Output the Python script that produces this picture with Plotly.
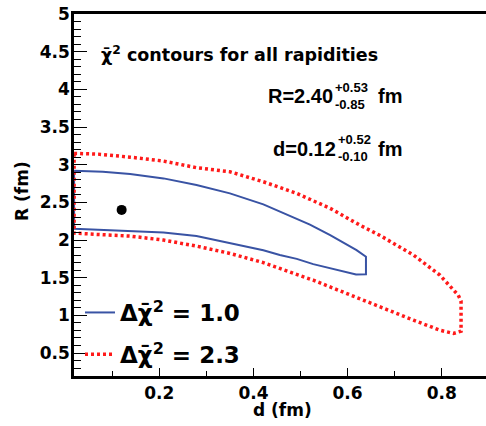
import plotly.graph_objects as go

# ---- data ----
blue_d = [0.019, 0.080, 0.138, 0.209, 0.279, 0.350, 0.421, 0.492, 0.520, 0.563, 0.592, 0.619, 0.639,
          0.639, 0.618, 0.563, 0.527, 0.492, 0.456, 0.421, 0.350, 0.279, 0.209, 0.138, 0.080, 0.019, 0.019]
blue_R = [2.919, 2.905, 2.875, 2.818, 2.729, 2.619, 2.473, 2.287, 2.205, 2.065, 1.960, 1.866, 1.777,
          1.545, 1.543, 1.620, 1.680, 1.750, 1.800, 1.865, 1.963, 2.052, 2.101, 2.122, 2.140, 2.149, 2.919]

red_d = [0.019, 0.070, 0.138, 0.209, 0.279, 0.350, 0.421, 0.492, 0.563, 0.626, 0.669, 0.740, 0.796,
         0.835, 0.841, 0.841, 0.825, 0.796, 0.740, 0.669, 0.598, 0.527, 0.456, 0.421, 0.350, 0.279,
         0.209, 0.138, 0.074, 0.019, 0.019]
red_R = [3.150, 3.140, 3.100, 3.048, 2.960, 2.906, 2.773, 2.619, 2.420, 2.198, 2.060, 1.800, 1.534,
         1.268, 1.189, 0.790, 0.760, 0.803, 0.936, 1.113, 1.291, 1.467, 1.623, 1.700, 1.822, 1.919,
         1.999, 2.052, 2.072, 2.092, 3.150]

best_d = [0.12]
best_R = [2.40]

legend_names = ["<b>Δχ\u0304<sup>2</sup> = 1.0</b>", "<b>Δχ\u0304<sup>2</sup> = 2.3</b>"]
x_ticks = [0.2, 0.4, 0.6, 0.8]
y_ticks = [0.5, 1, 1.5, 2, 2.5, 3, 3.5, 4, 4.5, 5]

W, H = 486, 426
L, R_, T, B = 74, 0, 14, 50
PW, PH = W - L - R_, H - T - B


def px(x):
    return (x - L) / PW


def py(y):
    return (H - B - y) / PH


DV = "DejaVu Sans, sans-serif"
AR = "Liberation Sans, Arial, sans-serif"

fig = go.Figure()
fig.add_trace(go.Scatter(x=blue_d, y=blue_R, mode="lines", name=legend_names[0], legendgroup="a",
                         line=dict(color="#3953a4", width=2)))
fig.add_trace(go.Scatter(x=red_d, y=red_R, mode="lines", name=legend_names[1], legendgroup="b",
                         line=dict(color="#ff1a1a", width=3.5, dash="3px,3px")))
fig.add_trace(go.Scatter(x=best_d, y=best_R, mode="markers", showlegend=False,
                         marker=dict(color="black", size=10)))

ann = []


def add(text, x, y, xa, size, font):
    ann.append(dict(text=text, x=px(x), y=py(y), xref="paper", yref="paper", xanchor=xa,
                    yanchor="middle", showarrow=False, align="left",
                    font=dict(family=font, size=size, color="black")))


add("<b>χ\u0304<sup>2</sup> contours for all rapidities</b>", 99, 54, "left", 17.5, DV)
add("<b>R=2.40</b>", 335, 96, "right", 20, AR)
add("<b>+0.53<br>-0.85</b>", 333, 96, "left", 13, AR)
add("<b>fm</b>", 376, 96, "left", 20, AR)
add("<b>d=0.12</b>", 338, 149, "right", 20, AR)
add("<b>+0.52<br>-0.10</b>", 336, 148, "left", 13, AR)
add("<b>fm</b>", 376, 149, "left", 20, AR)
add("<b>d (fm)</b>", 282, 410, "center", 17, DV)
ann.append(dict(text="<b>R (fm)</b>", x=px(22), y=py(191), xref="paper", yref="paper",
                xanchor="center", yanchor="middle", textangle=-90, showarrow=False,
                font=dict(family=DV, size=17, color="black")))

fig.update_layout(
    width=W, height=H,
    margin=dict(l=L, r=R_, t=T, b=B),
    paper_bgcolor="white", plot_bgcolor="white",
    annotations=ann,
    showlegend=True,
    legend=dict(x=px(80), y=py(291), xanchor="left", yanchor="top",
                bgcolor="rgba(0,0,0,0)", font=dict(family=DV, size=23, color="black"),
                tracegroupgap=9),
    xaxis=dict(range=[0.0188, 0.894], tickvals=x_ticks, ticktext=["<b>%g</b>" % v for v in x_ticks],
               ticks="inside", ticklen=8, tickwidth=1.2, tickcolor="black", automargin=False,
               minor=dict(dtick=0.1, ticks="inside", ticklen=5, tickwidth=1.2, tickcolor="black"),
               showline=True, linecolor="black", linewidth=2.5, mirror=True,
               showgrid=False, zeroline=False,
               tickfont=dict(family=DV, size=17, color="black")),
    yaxis=dict(range=[0.195, 5], tickvals=y_ticks, ticktext=["<b>%g</b>" % v for v in y_ticks],
               ticks="inside", ticklen=13, tickwidth=1.2, tickcolor="black", automargin=False,
               ticklabelstandoff=-2,
               minor=dict(dtick=0.1, tick0=0, ticks="inside", ticklen=7, tickwidth=1.2, tickcolor="black"),
               showline=True, linecolor="black", linewidth=2.5, mirror=False,
               showgrid=False, zeroline=False,
               tickfont=dict(family=DV, size=17, color="black")),
)

fig.write_html("out.html", config={"displayModeBar": False},
               post_script="document.body.style.margin='0';document.body.style.padding='0';"
                           "document.body.style.overflow='hidden';")
